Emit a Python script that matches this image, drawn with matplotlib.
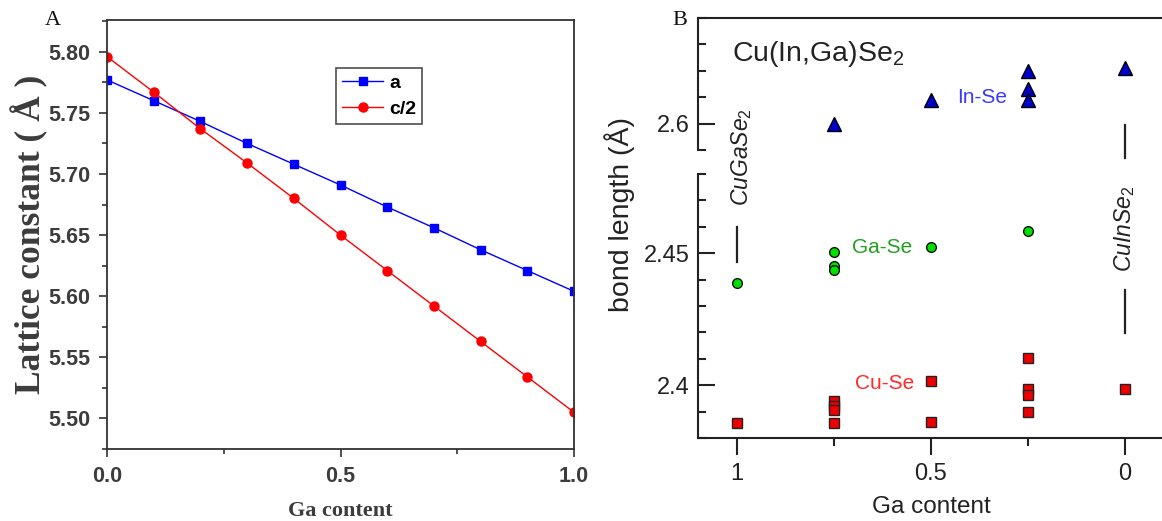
import matplotlib
matplotlib.use("Agg")
import matplotlib.pyplot as plt
from matplotlib.ticker import FixedLocator, MultipleLocator, FuncFormatter
from matplotlib.lines import Line2D

# ---------------- data: panel A ----------------
ga_content = [0.0, 0.1, 0.2, 0.3, 0.4, 0.5, 0.6, 0.7, 0.8, 0.9, 1.0]
lattice_a = [5.777, 5.760, 5.743, 5.725, 5.708, 5.691, 5.673, 5.656, 5.638, 5.621, 5.604]
lattice_c_half = [5.796, 5.767, 5.737, 5.709, 5.680, 5.650, 5.621, 5.592, 5.563, 5.534, 5.505]
legend_labels = ["a", "c/2"]
a_xticks = [0.0, 0.5, 1.0]
a_yticks = [5.50, 5.55, 5.60, 5.65, 5.70, 5.75, 5.80]

# ---------------- data: panel B ----------------
inse_x = [0.75, 0.5, 0.25, 0.25, 0.25, 0.0]
inse_y = [2.600, 2.609, 2.620, 2.613, 2.609, 2.621]
gase_x = [1.0, 0.75, 0.75, 0.75, 0.5, 0.25]
gase_y = [2.4386, 2.4504, 2.4451, 2.4436, 2.4523, 2.4583]
cuse_x = [1.0, 0.75, 0.75, 0.75, 0.75, 0.5, 0.5, 0.25, 0.25, 0.25, 0.25, 0.0]
cuse_y = [2.3856, 2.3940, 2.3922, 2.3905, 2.3856, 2.4015, 2.3860,
          2.4102, 2.3985, 2.3962, 2.3898, 2.3985]
b_xticks = [1.0, 0.5, 0.0]
b_xtick_labels = ["1", "0.5", "0"]
b_upper_major = [2.6]
b_lower_major = [2.4, 2.45]

W, H = 1162, 521
fig = plt.figure(figsize=(W / 100, H / 100), dpi=100)


def fx(px):
    return px / W


def fy(py):
    return 1 - py / H


# ================= Panel A =================
serif = "Liberation Serif"
sans = "Liberation Sans"
gray_txt = "#3c3c3c"
axA = fig.add_axes([fx(107), fy(449), fx(574) - fx(107), fy(20) - fy(449)])
axA.plot(ga_content, lattice_a, color="#0000ff", lw=1.0, marker="s", ms=6,
         label=legend_labels[0])
axA.plot(ga_content, lattice_c_half, color="#ff0000", lw=1.0, marker="o", ms=6.5,
         label=legend_labels[1])
axA.set_xlim(0.0, 1.0)
axA.set_ylim(5.475, 5.826)
axA.xaxis.set_major_locator(FixedLocator(a_xticks))
axA.xaxis.set_minor_locator(MultipleLocator(0.25))
axA.yaxis.set_major_locator(FixedLocator(a_yticks))
axA.yaxis.set_minor_locator(MultipleLocator(0.025))
axA.xaxis.set_major_formatter(FuncFormatter(lambda v, p: f"{v:.1f}"))
axA.yaxis.set_major_formatter(FuncFormatter(lambda v, p: f"{v:.2f}"))
for s in axA.spines.values():
    s.set_color("#333333")
    s.set_linewidth(1.3)
axA.tick_params(which="major", direction="out", length=6, width=1.2, color="#333333",
                labelsize=15.5, labelcolor=gray_txt, pad=6)
axA.tick_params(which="minor", direction="out", length=3.5, width=1.2, color="#333333")
for lab in axA.get_xticklabels() + axA.get_yticklabels():
    lab.set_fontfamily(sans)
    lab.set_fontweight("bold")
axA.set_xlabel("Ga content", fontfamily=serif, fontweight="bold", fontsize=16,
               color=gray_txt, labelpad=10)
axA.set_ylabel("Lattice constant ( Å )", fontfamily=serif, fontweight="bold",
               fontsize=25.5, color=gray_txt, labelpad=0)
leg = axA.legend(loc="upper left", bbox_to_anchor=(fx(336), fy(68)),
                 bbox_transform=fig.transFigure, borderaxespad=0,
                 fancybox=False, frameon=True, handlelength=2.1,
                 handletextpad=0.3, labelspacing=0.45, borderpad=0.32,
                 prop={"family": sans, "weight": "bold", "size": 14})
leg.get_frame().set_edgecolor("#222222")
leg.get_frame().set_linewidth(1.2)
fig.text(fx(45), fy(25), "A", fontfamily=serif, fontsize=16, va="baseline",
         ha="left", color="#111111")

# ================= Panel B =================
plt.rcParams["mathtext.fontset"] = "custom"
plt.rcParams["mathtext.rm"] = "Liberation Sans"
plt.rcParams["mathtext.it"] = "Liberation Sans:italic"
dark = "#222222"
xl = (1.1, -0.1)
axU = fig.add_axes([fx(698), fy(150), fx(1164) - fx(698), fy(18) - fy(150)])
axL = fig.add_axes([fx(698), fy(438), fx(1164) - fx(698), fy(174) - fy(438)])
axU.set_xlim(*xl)
axL.set_xlim(*xl)
axU.set_ylim(2.59, 2.64)
axL.set_ylim(2.38, 2.48)

axU.plot(inse_x, inse_y, ls="none", marker="^", ms=9.5, mfc="#0000cc",
         mec="black", mew=1.0, clip_on=False)
axL.plot(gase_x, gase_y, ls="none", marker="o", ms=7, mfc="#00e000",
         mec="#111111", mew=1.0, clip_on=False)
axL.plot(cuse_x, cuse_y, ls="none", marker="s", ms=6.5, mfc="#ee0000",
         mec="#222222", mew=1.0, clip_on=False)

for ax in (axU, axL):
    ax.spines["right"].set_visible(False)
    for s in ax.spines.values():
        s.set_color(dark)
        s.set_linewidth(1.5)
    ax.set_facecolor("none")
axU.spines["bottom"].set_visible(False)
axL.spines["top"].set_visible(False)

axU.xaxis.set_visible(False)
axU.yaxis.set_major_locator(FixedLocator(b_upper_major))
axU.yaxis.set_minor_locator(MultipleLocator(0.01))
axL.yaxis.set_major_locator(FixedLocator(b_lower_major))
axL.yaxis.set_minor_locator(MultipleLocator(0.01))
fmt = FuncFormatter(lambda v, p: f"{v:g}")
axU.yaxis.set_major_formatter(fmt)
axL.yaxis.set_major_formatter(fmt)
axL.xaxis.set_major_locator(FixedLocator(b_xticks))
axL.xaxis.set_minor_locator(MultipleLocator(0.25))
axL.set_xticklabels(b_xtick_labels)
for ax in (axU, axL):
    ax.tick_params(axis="y", which="major", direction="in", length=12, width=1.5,
                   color=dark, labelsize=17, labelcolor=dark, pad=6)
    ax.tick_params(axis="y", which="minor", direction="in", length=6, width=1.5,
                   color=dark)
axL.tick_params(axis="x", which="major", direction="out", length=12, width=1.5,
                color=dark, labelsize=17, labelcolor=dark, pad=6)
axL.tick_params(axis="x", which="minor", direction="out", length=6, width=1.5,
                color=dark)
for lab in (axU.get_yticklabels() + axL.get_yticklabels() + axL.get_xticklabels()):
    lab.set_fontfamily(sans)
axL.set_xlabel("Ga content", fontfamily=sans, fontsize=17.5, color=dark, labelpad=8)
fig.text(fx(620), fy(215), "bond length (Å)", fontfamily=sans, fontsize=20.5,
         color=dark, rotation=90, ha="center", va="center")
fig.text(fx(672), fy(25), "B", fontfamily=serif, fontsize=16, va="baseline",
         ha="left", color="#111111")

# annotations
axU.text(1.012, 2.6237, r"Cu(In,Ga)Se$_2$", fontfamily=sans, fontsize=20.5,
         color=dark, ha="left", va="baseline")
axU.text(0.4325, 2.6097, "In-Se", fontfamily=sans, fontsize=15, color="#3a3aff",
         ha="left", va="center")
axL.text(0.703, 2.4523, "Ga-Se", fontfamily=sans, fontsize=15, color="#22a022",
         ha="left", va="center")
axL.text(0.6954, 2.4005, "Cu-Se", fontfamily=sans, fontsize=15, color="#ff2a2a",
         ha="left", va="center")
axL.text(0.989, 2.4864, r"CuGaSe$_2$", fontfamily=sans, style="italic", fontsize=16.5,
         color=dark, rotation=90, ha="center", va="center", clip_on=False)
axL.text(0.002, 2.4592, r"CuInSe$_2$", fontfamily=sans, style="italic", fontsize=16.5,
         color=dark, rotation=90, ha="center", va="center", clip_on=False)
marker_bars = [(1.0, 2.4467, 2.4599), (0.0, 2.4861, 2.4986), (0.0, 2.4198, 2.4361)]
for xb, y0, y1 in marker_bars:
    axL.add_line(Line2D([xb, xb], [y0, y1], color=dark, lw=1.6, clip_on=False))

fig.savefig("out.png", dpi=100)
